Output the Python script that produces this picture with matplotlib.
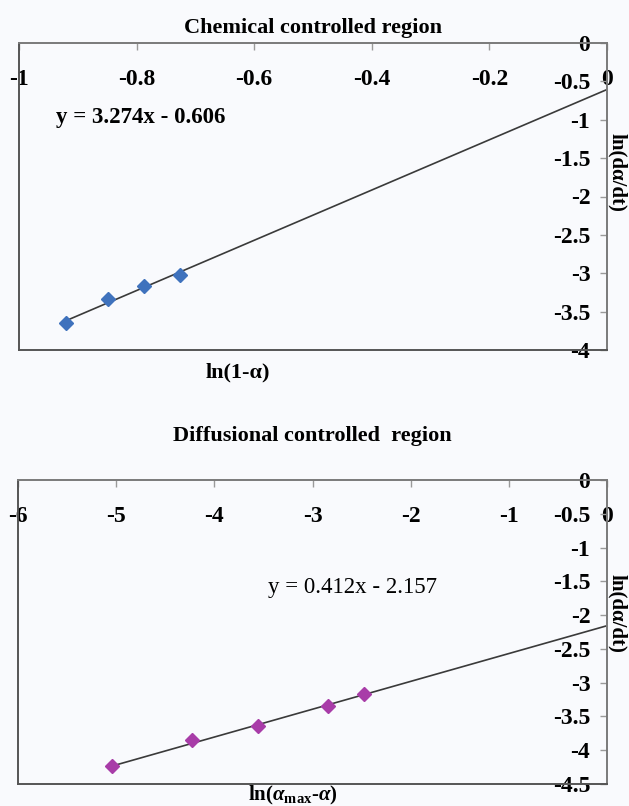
import matplotlib
matplotlib.use("Agg")
import matplotlib.pyplot as plt
import numpy as np

# ---- data ----
chem_x = [-0.920, -0.848, -0.788, -0.727]
chem_y = [-3.65, -3.33, -3.16, -3.02]
chem_slope, chem_icpt = 3.274, -0.606
chem_eq = "y = 3.274x - 0.606"

diff_x = [-5.04, -4.23, -3.56, -2.845, -2.48]
diff_y = [-4.24, -3.85, -3.64, -3.34, -3.17]
diff_slope, diff_icpt = 0.412, -2.157
diff_eq = "y = 0.412x - 2.157"

chem_xticks = [-1, -0.8, -0.6, -0.4, -0.2, 0]
chem_xticklabels = ["-1", "-0.8", "-0.6", "-0.4", "-0.2", "0"]
chem_yticks = [0, -0.5, -1, -1.5, -2, -2.5, -3, -3.5, -4]
chem_yticklabels = ["0", "-0.5", "-1", "-1.5", "-2", "-2.5", "-3", "-3.5", "-4"]

diff_xticks = [-6, -5, -4, -3, -2, -1, 0]
diff_xticklabels = ["-6", "-5", "-4", "-3", "-2", "-1", "0"]
diff_yticks = [0, -0.5, -1, -1.5, -2, -2.5, -3, -3.5, -4, -4.5]
diff_yticklabels = ["0", "-0.5", "-1", "-1.5", "-2", "-2.5", "-3", "-3.5", "-4", "-4.5"]

plt.rcParams['font.family'] = ['Liberation Serif', 'DejaVu Serif']
plt.rcParams['mathtext.fontset'] = 'custom'
plt.rcParams['mathtext.rm'] = 'Liberation Serif:bold'
plt.rcParams['mathtext.it'] = 'Liberation Serif:italic:bold'
plt.rcParams['mathtext.bf'] = 'Liberation Serif:bold'

BG = '#f9fafd'
fig = plt.figure(figsize=(6.29, 8.06), dpi=100, facecolor=BG)

W, H = 629, 806
def pos(l, r, t, b):
    return [l / W, 1 - b / H, (r - l) / W, (b - t) / H]

ax1 = fig.add_axes(pos(19, 607, 43, 350))
ax2 = fig.add_axes(pos(18, 607, 480, 784))

def style(ax, xlim, ylim, xticks, xtl, yticks, ytl, tick_fs=17):
    ax.set_facecolor(BG)
    ax.set_xlim(*xlim)
    ax.set_ylim(*ylim)
    for s in ax.spines.values():
        s.set_color('#7a7a7a')
        s.set_linewidth(1.4)
    ax.spines['left'].set_color('#555555')
    ax.spines['bottom'].set_color('#555555')
    ax.set_xticks(xticks)
    ax.set_xticklabels(xtl)
    ax.set_yticks(yticks)
    ax.set_yticklabels(ytl)
    ax.xaxis.set_ticks_position('top')
    ax.yaxis.set_ticks_position('right')
    ax.tick_params(axis='x', top=True, bottom=False, labeltop=True, labelbottom=False,
                   direction='in', length=5, width=1, color='#9a9a9a', pad=-34,
                   labelsize=tick_fs)
    ax.tick_params(axis='y', right=True, left=False, labelright=True, labelleft=False,
                   direction='in', length=5, width=1, color='#9a9a9a', pad=-12,
                   labelsize=tick_fs)
    for t in ax.get_xticklabels() + ax.get_yticklabels():
        t.set_fontweight('bold')
    for t in ax.get_yticklabels():
        t.set_ha('right')

# ---- top panel ----
style(ax1, (-1, 0), (-4, 0), chem_xticks, chem_xticklabels, chem_yticks, chem_yticklabels)
lx = np.array([min(chem_x), 0.0])
ax1.plot(lx, chem_slope * lx + chem_icpt, color='#3a3a3a', lw=1.2, zorder=2)
ax1.plot(chem_x, chem_y, linestyle='none', marker='D', markersize=7,
         color='#3f72bd', markeredgecolor='#3f72bd', zorder=3, clip_on=False)
ax1.text(0.063, 0.756, chem_eq, transform=ax1.transAxes, fontsize=16.5,
         fontweight='bold', ha='left', va='center')
ax1.set_title('Chemical controlled region', fontsize=16, fontweight='bold', pad=7)
ax1.xaxis.set_label_position('bottom')
ax1.set_xlabel('ln(1-α)', fontsize=16, fontweight='bold')
ax1.xaxis.set_label_coords(0.373, -0.04)
ax1.yaxis.set_label_position('right')
ax1.set_ylabel('ln(dα/dt)', fontsize=15, fontweight='bold', rotation=270, va='center')
ax1.yaxis.set_label_coords(1.017, 0.577)

# ---- bottom panel ----
style(ax2, (-6, 0), (-4.5, 0), diff_xticks, diff_xticklabels, diff_yticks, diff_yticklabels)
lx2 = np.array([min(diff_x), 0.0])
ax2.plot(lx2, diff_slope * lx2 + diff_icpt, color='#3a3a3a', lw=1.2, zorder=2)
ax2.plot(diff_x, diff_y, linestyle='none', marker='D', markersize=7,
         color='#a83ca8', markeredgecolor='#a83ca8', zorder=3, clip_on=False)
ax2.text(0.425, 0.648, diff_eq, transform=ax2.transAxes, fontsize=16.5,
         fontweight='normal', ha='left', va='center')
ax2.set_title('Diffusional controlled  region', fontsize=16, fontweight='bold', pad=28)
ax2.xaxis.set_label_position('bottom')
ax2.set_xlabel(r'ln($\alpha_{\mathrm{max}}$-$\alpha$)', fontsize=15, fontweight='bold')
ax2.xaxis.set_label_coords(0.466, 0.0)
ax2.yaxis.set_label_position('right')
ax2.set_ylabel('ln(dα/dt)', fontsize=15, fontweight='bold', rotation=270, va='center')
ax2.yaxis.set_label_coords(1.017, 0.5625)

fig.savefig('out.png', dpi=100, facecolor=BG)
